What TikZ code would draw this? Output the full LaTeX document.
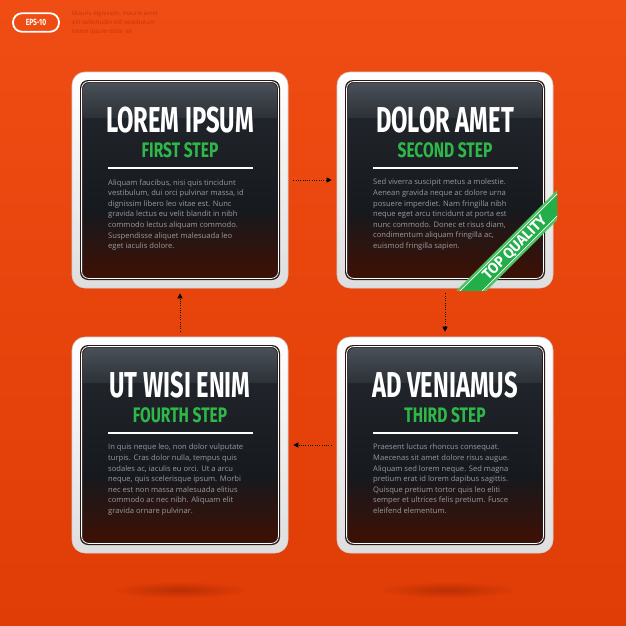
\documentclass[tikz,border=0pt]{standalone}
\usepackage{fontspec}
\setmainfont{Open Sans}
\newfontfamily\titlefont[FakeStretch=0.66]{Fira Sans}
\newfontfamily\subfont[FakeStretch=0.74]{Fira Sans}
\newfontfamily\ribfont[FakeStretch=0.95]{Fira Sans}
\usetikzlibrary{arrows.meta,fadings}
\definecolor{bgtop}{HTML}{EF4D14}
\definecolor{bgbot}{HTML}{E03C06}
\definecolor{rimdark}{HTML}{2A1A17}
\definecolor{paneltop}{HTML}{24292F}
\definecolor{panelmid}{HTML}{16191E}
\definecolor{panelbot}{HTML}{3E1004}
\definecolor{glosstop}{HTML}{4A5058}
\definecolor{glossbot}{HTML}{2D3238}
\definecolor{stepgreen}{HTML}{2FB84A}
\definecolor{bodygray}{HTML}{979BA2}
\definecolor{ribgreen}{HTML}{22AE48}
\definecolor{riblight}{HTML}{4CC462}
\definecolor{headred}{HTML}{C4360C}
\definecolor{shadowcol}{HTML}{8A2000}
\tikzfading[name=softshadow, inner color=transparent!55, outer color=transparent!100]
\tikzset{
  cardframe/.style={draw=black!18, line width=0.6pt, top color=white, bottom color=black!13,
    rounded corners=13pt, minimum width=216pt, minimum height=216pt, inner sep=0pt},
  titletext/.style={font=\titlefont\bfseries\fontsize{36}{36}\selectfont, text=white, anchor=base, inner sep=0pt},
  subtext/.style={font=\subfont\bfseries\fontsize{21}{21}\selectfont, text=stepgreen, anchor=base, inner sep=0pt},
  bodytext/.style={font=\fontsize{7.6}{10.6}\selectfont, text=bodygray, anchor=north west, align=left, inner sep=0pt},
  conn/.style={draw=black, line width=1pt, dash pattern=on 1pt off 1.3pt,
    -{Triangle[length=5pt,width=5pt]}, shorten <=5pt, shorten >=5pt},
}
\newcommand\stepcard[6]{%
  \node[cardframe] (#1) at (#2,#3) {};
  \begin{scope}[shift={(#2,#3)}]
    \fill[rimdark, rounded corners=8pt] (-100,-100) rectangle (100,100);
    \begin{scope}
      \clip[rounded corners=6pt] (-97,-97) rectangle (97,97);
      \shade[top color=paneltop, bottom color=panelmid] (-97,-97) rectangle (97,30);
      \shade[top color=panelmid, bottom color=panelbot] (-97,29.5) rectangle (97,97);
      \shade[top color=glosstop, bottom color=glossbot] (-97,-97) rectangle (97,-63);
    \end{scope}
    \draw[white, line width=0.8pt, rounded corners=7pt] (-98.4,-98.4) rectangle (98.4,98.4);
    \node[titletext] (#1t) at (0,-48) {#4};
    \node[subtext] (#1s) at (0,-23) {#5};
    \draw[white, line width=2pt] (-72,-12) -- (73,-12);
    \node[bodytext] (#1b) at (-72,-1) {#6};
  \end{scope}}
\begin{document}
\begin{tikzpicture}[x=1pt, y=-1pt]
\useasboundingbox (0,0) rectangle (626,626);
\shade[top color=bgtop, bottom color=bgbot] (0,0) rectangle (626,626);
% header
\node[draw=white, line width=1.8pt, rounded corners=9pt, minimum width=46pt, minimum height=18.5pt,
  inner sep=0pt, text=white, font=\subfont\bfseries\fontsize{9}{9}\selectfont] (eps) at (36,22.5) {EPS-10};
\node[anchor=north west, align=left, inner sep=0pt, text=headred,
  font=\fontsize{6}{8.7}\selectfont] (headtxt) at (72,11) {Mauris dignissim, mauris amet\\elit sollicitudin elit vestibulum\\lorem ipsum dolor sit};
% floor shadows
\fill[shadowcol, path fading=softshadow] (180,590) ellipse [x radius=68pt, y radius=8pt];
\fill[shadowcol, path fading=softshadow] (448,590) ellipse [x radius=68pt, y radius=8pt];
% cards
\stepcard{c1}{180}{180}{LOREM IPSUM}{FIRST STEP}{Aliquam faucibus, nisi quis tincidunt\\vestibulum, dui orci pulvinar massa, id\\dignissim libero leo vitae est. Nunc\\gravida lectus eu velit blandit in nibh\\commodo lectus aliquam commodo.\\Suspendisse aliquet malesuada leo\\eget iaculis dolore.}
\stepcard{c2}{445}{180}{DOLOR AMET}{SECOND STEP}{Sed viverra suscipit metus a molestie.\\Aenean gravida neque ac dolore urna\\posuere imperdiet. Nam fringilla nibh\\neque eget arcu tincidunt at porta est\\nunc commodo. Donec et risus diam,\\condimentum aliquam fringilla ac,\\euismod fringilla sapien.}
\stepcard{c3}{445}{445}{AD VENIAMUS}{THIRD STEP}{Praesent luctus rhoncus consequat.\\Maecenas sit amet dolore risus augue.\\Aliquam sed lorem neque. Sed magna\\pretium erat id lorem dapibus sagittis.\\Quisque pretium tortor quis leo eliti\\semper et ultrices felis pretium. Fusce\\eleifend elementum.}
\stepcard{c4}{180}{445}{UT WISI ENIM}{FOURTH STEP}{In quis neque leo, non dolor vulputate\\turpis. Cras dolor nulla, tempus quis\\sodales ac, iaculis eu orci. Ut a arcu\\neque, quis scelerisque ipsum. Morbi\\nec est non massa malesuada elitius\\commodo ac nec nibh. Aliquam elit\\gravida ornare pulvinar.}
% ribbon
\begin{scope}
  \clip (337,72) rectangle (557,290);
  \fill[riblight] (447,300) -- (567,180) -- (597,180) -- (477,300) -- cycle;
  \fill[ribgreen] (450.5,300) -- (570.5,180) -- (593.5,180) -- (473.5,300) -- cycle;
  \draw[white, line width=0.7pt] (451,300) -- (571,180);
  \draw[white, line width=0.7pt] (473,300) -- (593,180);
\end{scope}
\node[rotate=45, text=white, inner sep=0pt, font=\ribfont\bfseries\fontsize{15}{15}\selectfont] (rib) at (515,248) {TOP QUALITY};
% connectors
\draw[conn] (c1.east) -- (c2.west);
\draw[conn] (c2.south) -- (c3.north);
\draw[conn] (c3.west) -- (c4.east);
\draw[conn] (c4.north) -- (c1.south);
\end{tikzpicture}
\end{document}
